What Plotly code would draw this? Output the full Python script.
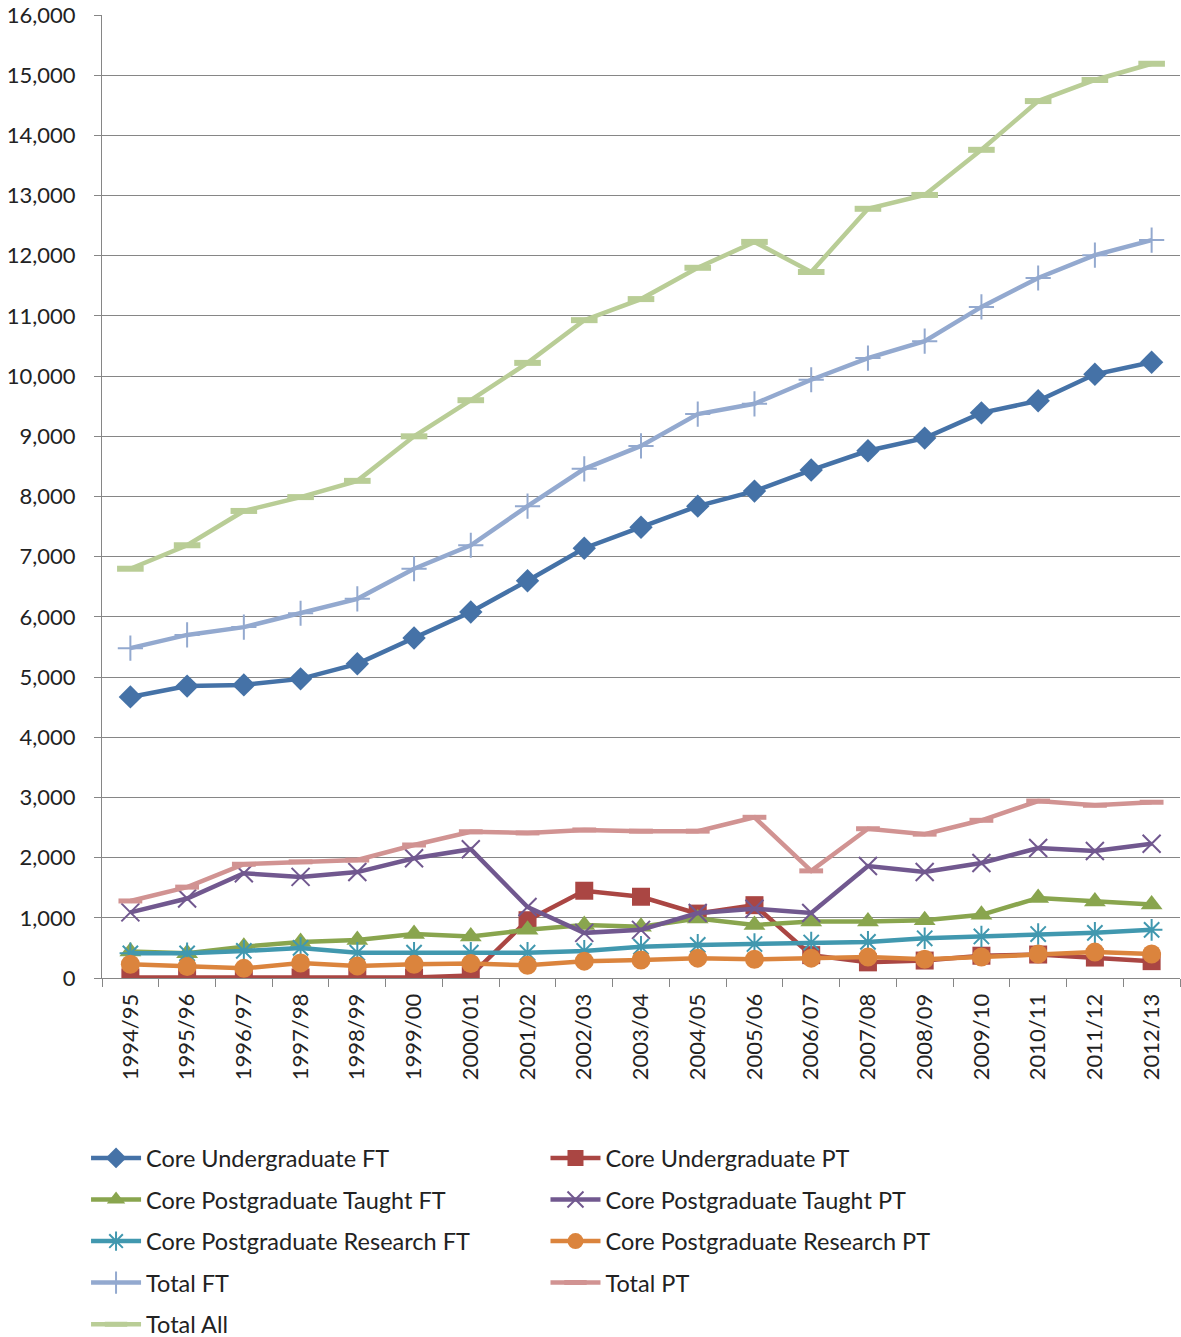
import plotly.graph_objects as go

years = ["1994/95", "1995/96", "1996/97", "1997/98", "1998/99", "1999/00", "2000/01",
         "2001/02", "2002/03", "2003/04", "2004/05", "2005/06", "2006/07", "2007/08",
         "2008/09", "2009/10", "2010/11", "2011/12", "2012/13"]

core_ug_ft = [4670, 4850, 4870, 4970, 5220, 5650, 6080, 6600, 7140, 7490,
              7840, 8090, 8440, 8760, 8970, 9390, 9590, 10030, 10230]
core_ug_pt = [10, 10, 10, 10, 10, 10, 40, 960, 1450, 1350,
              1070, 1210, 380, 260, 290, 370, 390, 340, 280]
core_pgt_ft = [440, 410, 520, 600, 630, 730, 690, 800, 880, 850,
               990, 880, 940, 940, 960, 1050, 1330, 1270, 1220]
core_pgt_pt = [1090, 1320, 1740, 1680, 1760, 1990, 2140, 1180, 750, 800,
               1080, 1150, 1080, 1860, 1760, 1910, 2160, 2110, 2230]
core_pgr_ft = [410, 410, 450, 500, 420, 420, 420, 420, 450, 520,
               550, 565, 590, 600, 660, 690, 730, 750, 800]
core_pgr_pt = [230, 190, 160, 250, 200, 230, 240, 210, 280, 300,
               330, 310, 330, 350, 310, 350, 400, 430, 400]
total_ft = [5480, 5700, 5830, 6060, 6300, 6800, 7190, 7840, 8460, 8840,
            9370, 9540, 9940, 10300, 10580, 11150, 11630, 12010, 12260]
total_pt = [1280, 1510, 1890, 1930, 1960, 2210, 2430, 2410, 2460, 2440,
            2440, 2670, 1780, 2480, 2390, 2620, 2940, 2870, 2920]
total_all = [6800, 7190, 7760, 7990, 8260, 9000, 9600, 10220, 10930, 11280,
             11800, 12230, 11730, 12780, 13010, 13760, 14570, 14920, 15190]

y_ticks = list(range(0, 16001, 1000))

FONT = "Lato, 'Open Sans', sans-serif"

# name, values, colour, marker symbol, marker size, marker line width, legend
series = [
    ("Core Undergraduate FT", core_ug_ft, "#4572A7", "diamond", 18, 0, "legend"),
    ("Core Undergraduate PT", core_ug_pt, "#AA4643", "square", 18, 0, "legend2"),
    ("Core Postgraduate Taught FT", core_pgt_ft, "#89A54E", "triangle-up", 19, 0, "legend"),
    ("Core Postgraduate Taught PT", core_pgt_pt, "#71588F", "x-thin-open", 18, 2, "legend2"),
    ("Core Postgraduate Research FT", core_pgr_ft, "#4198AF", "asterisk-open", 18, 2, "legend"),
    ("Core Postgraduate Research PT", core_pgr_pt, "#DB843D", "circle", 19, 0, "legend2"),
    ("Total FT", total_ft, "#93A9CF", "cross-thin-open", 18, 2, "legend"),
    ("Total PT", total_pt, "#D19392", "line-ew-open", 17, 5, "legend2"),
    ("Total All", total_all, "#B9CD96", "line-ew-open", 19, 6, "legend"),
]

fig = go.Figure()
for name, vals, color, sym, size, lw, leg in series:
    fig.add_trace(go.Scatter(
        x=years, y=vals, name=name, mode="lines+markers",
        line=dict(color=color, width=4.5),
        marker=dict(symbol=sym, size=size, color=color,
                    line=dict(color=color, width=lw)),
        legend=leg, legendgroup=name,
    ))

legend_common = dict(
    orientation="v",
    font=dict(family=FONT, size=23.5, color="#222222"),
    tracegroupgap=8,
    itemwidth=50,
    bgcolor="rgba(0,0,0,0)",
    xanchor="left", yanchor="top",
    xref="paper", yref="container",
    y=0.1502,
)

fig.update_layout(
    width=1181, height=1337,
    margin=dict(l=102, r=1, t=15, b=359),
    paper_bgcolor="white", plot_bgcolor="white",
    font=dict(family=FONT, size=22, color="#222222"),
    showlegend=True,
    legend=dict(**legend_common, x=-0.0148),
    legend2=dict(**legend_common, x=0.4114),
    xaxis=dict(
        type="category", tickangle=-90, ticks="outside", tickson="boundaries",
        ticklen=8, tickcolor="#868686", showline=True, linecolor="#868686",
        linewidth=1, showgrid=False, tickfont=dict(family=FONT, size=22),
        ticklabelstandoff=6, range=[-0.5, 18.5],
    ),
    yaxis=dict(
        range=[0, 16000], tickvals=y_ticks, tickformat=",",
        ticks="outside", ticklen=7, tickcolor="#868686",
        showline=True, linecolor="#868686", linewidth=1,
        showgrid=True, gridcolor="#868686", gridwidth=1,
        zeroline=False, tickfont=dict(family=FONT, size=22),
        ticklabelstandoff=14,
    ),
)

fig.write_html("out.html")
